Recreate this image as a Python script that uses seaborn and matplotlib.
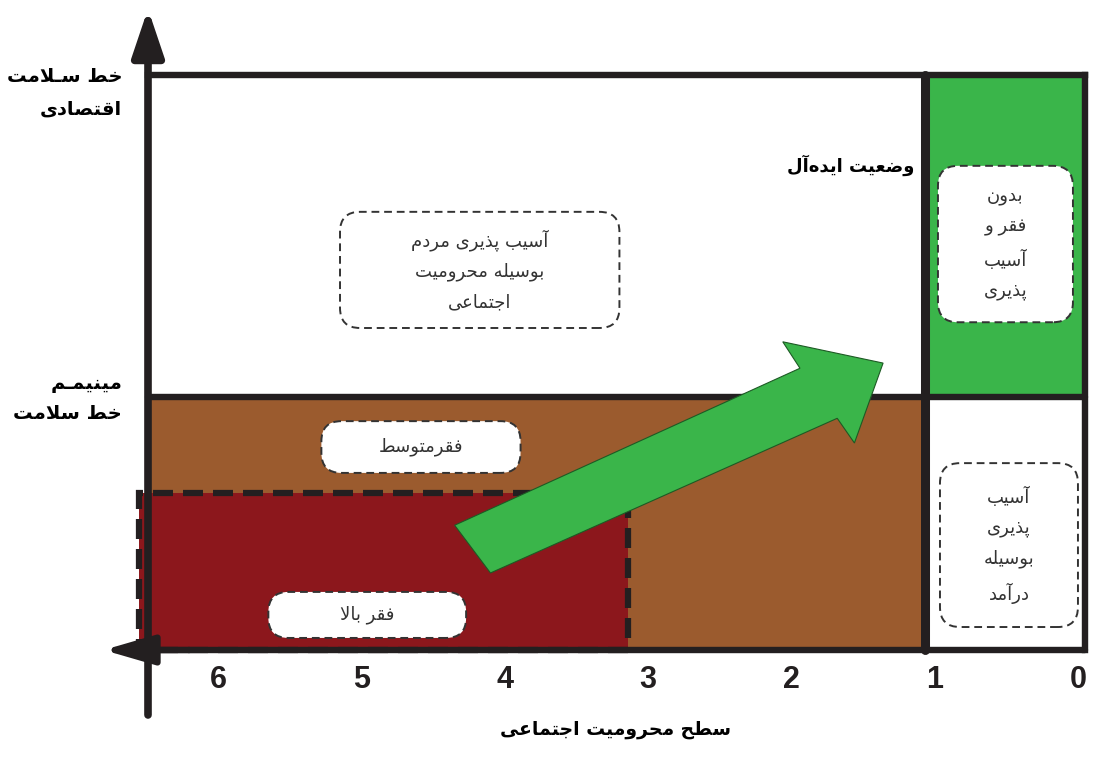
import matplotlib
matplotlib.use("Agg")
import matplotlib.pyplot as plt
import seaborn as sns
from matplotlib.patches import Rectangle, FancyBboxPatch

# ---------------- data ----------------
x_ticks = [0, 1, 2, 3, 4, 5, 6]
x_tick_labels = ["0", "1", "2", "3", "4", "5", "6"]
x_label = "سطح محرومیت اجتماعی"
y_line_min = 44          # minimum health line
y_line_econ = 100        # economic health line
y_label_econ = ["خط سـلامت", "اقتصادی"]
y_label_min = ["مینیمـم", "خط سلامت"]
x_left, x_right = 6.49, -0.05
x_split = 1.07           # ideal-state boundary
high_x, high_y = 3.14, 27.3
arrow_x = [4.35, 1.94, 2.06, 1.36, 1.56, 1.68, 4.10]
arrow_y = [21.7, 49.0, 53.6, 49.9, 36.0, 40.3, 13.4]
ideal_label = "وضعیت ایده\u200cآل"
boxes = [
    # x0, x1, y0, y1, lines
    (3.20, 5.15, 56.0, 76.2, ["آسیب پذیری مردم", "بوسیله محرومیت", "اجتماعی"]),
    (0.035, 0.977, 57.0, 84.2, ["بدون", "فقر و", "آسیب", "پذیری"]),
    (0.0, 0.963, 4.0, 32.5, ["آسیب", "پذیری", "بوسیله", "درآمد"]),
    (3.89, 5.28, 30.8, 39.8, ["فقرمتوسط"]),
    (4.27, 5.65, 2.1, 10.1, ["فقر بالا"]),
]

GREEN = "#3AB54A"
BROWN = "#9B5B2E"
RED = "#8C171C"
BLACK = "#231F20"

# ---------------- simple Arabic/Persian shaper ----------------
F = {
    'ا': (0xFE8D, 0xFE8E, None, None), 'آ': (0xFE81, 0xFE82, None, None),
    'ب': (0xFE8F, 0xFE90, 0xFE91, 0xFE92), 'پ': (0xFB56, 0xFB57, 0xFB58, 0xFB59),
    'ت': (0xFE95, 0xFE96, 0xFE97, 0xFE98), 'ج': (0xFE9D, 0xFE9E, 0xFE9F, 0xFEA0),
    'ح': (0xFEA1, 0xFEA2, 0xFEA3, 0xFEA4), 'خ': (0xFEA5, 0xFEA6, 0xFEA7, 0xFEA8),
    'د': (0xFEA9, 0xFEAA, None, None), 'ذ': (0xFEAB, 0xFEAC, None, None),
    'ر': (0xFEAD, 0xFEAE, None, None), 'ز': (0xFEAF, 0xFEB0, None, None),
    'س': (0xFEB1, 0xFEB2, 0xFEB3, 0xFEB4), 'ص': (0xFEB9, 0xFEBA, 0xFEBB, 0xFEBC),
    'ض': (0xFEBD, 0xFEBE, 0xFEBF, 0xFEC0), 'ط': (0xFEC1, 0xFEC2, 0xFEC3, 0xFEC4),
    'ع': (0xFEC9, 0xFECA, 0xFECB, 0xFECC), 'ف': (0xFED1, 0xFED2, 0xFED3, 0xFED4),
    'ق': (0xFED5, 0xFED6, 0xFED7, 0xFED8), 'ل': (0xFEDD, 0xFEDE, 0xFEDF, 0xFEE0),
    'م': (0xFEE1, 0xFEE2, 0xFEE3, 0xFEE4), 'ن': (0xFEE5, 0xFEE6, 0xFEE7, 0xFEE8),
    'ه': (0xFEE9, 0xFEEA, 0xFEEB, 0xFEEC), 'و': (0xFEED, 0xFEEE, None, None),
    'ی': (0xFBFC, 0xFBFD, 0xFBFE, 0xFBFF),
    'ـ': (0x640, 0x640, 0x640, 0x640),
    'لا': (0xFEFB, 0xFEFC, None, None), 'لآ': (0xFEF5, 0xFEF6, None, None),
}


def shape(s):
    toks = []
    i = 0
    while i < len(s):
        if s[i] == 'ل' and i + 1 < len(s) and s[i + 1] in 'اآ':
            toks.append(s[i:i + 2]); i += 2
        else:
            toks.append(s[i]); i += 1
    out = []
    for k, t in enumerate(toks):
        if t not in F:
            if t != '\u200c':
                out.append(t)
            continue
        jp = k > 0 and toks[k - 1] in F and F[toks[k - 1]][2] is not None
        jn = F[t][2] is not None and k + 1 < len(toks) and toks[k + 1] in F
        iso, fin, ini, med = F[t]
        if jp and jn:
            c = med
        elif jp:
            c = fin
        elif jn:
            c = ini
        else:
            c = iso
        out.append(chr(c))
    return "".join(out)[::-1]


def shape_lines(lines):
    return "\n".join(shape(l) for l in lines)


# ---------------- figure ----------------
sns.set_theme(style="white")
plt.rcParams['font.family'] = ['DejaVu Sans']

fig = plt.figure(figsize=(10.97, 7.58), dpi=100)
ax = fig.add_axes([100 / 1097, 38 / 758, 992 / 1097, 715 / 758])
ax.set_xlim(6.825, -0.098)
ax.set_ylim(-12.17, 112.17)
ax.axis("off")

# regions
ax.add_patch(Rectangle((x_right, y_line_min), x_split - x_right, y_line_econ - y_line_min,
                       facecolor=GREEN, edgecolor="none", zorder=1))
ax.add_patch(Rectangle((x_split, 0), x_left - x_split, y_line_min,
                       facecolor=BROWN, edgecolor="none", zorder=1))
ax.add_patch(Rectangle((high_x, 0), 6.55 - high_x, high_y,
                       facecolor=RED, edgecolor=BLACK, linewidth=4.5,
                       linestyle=(0, (3.2, 1.6)), zorder=2))

# frame lines
lw = 4.6
ax.plot([x_left, x_right], [y_line_econ, y_line_econ], color=BLACK, lw=lw, zorder=3, solid_capstyle="projecting")
ax.plot([x_left, x_right], [y_line_min, y_line_min], color=BLACK, lw=lw, zorder=3)
ax.plot([x_right, x_right], [0, y_line_econ], color=BLACK, lw=lw, zorder=3, solid_capstyle="projecting")
ax.plot([x_split, x_split], [0, y_line_econ], color=BLACK, lw=6.5, zorder=3)
ax.plot([x_right, x_left], [0, 0], color=BLACK, lw=lw, zorder=3)

# axis arrows
ax.annotate("", xy=(x_left, 111.5), xytext=(x_left, -11.3),
            arrowprops=dict(arrowstyle="-|>,head_length=0.95,head_width=0.32",
                            color=BLACK, lw=5.5, mutation_scale=30, shrinkA=0, shrinkB=0),
            zorder=4)
ax.annotate("", xy=(6.80, 0), xytext=(6.2, 0),
            arrowprops=dict(arrowstyle="-|>,head_length=1.1,head_width=0.32",
                            color=BLACK, lw=4.5, mutation_scale=28, shrinkA=0, shrinkB=0),
            zorder=4)

# green arrow
ax.fill(arrow_x, arrow_y, facecolor=GREEN, edgecolor="#1d5a24", linewidth=0.8, zorder=5)

# dashed rounded boxes
for x0, x1, y0, y1, lines in boxes:
    ax.add_patch(FancyBboxPatch((x0, y0), x1 - x0, y1 - y0,
                                boxstyle="round,pad=0,rounding_size=0.14",
                                mutation_aspect=24.9, facecolor="white",
                                edgecolor="#333333", linewidth=1.4,
                                linestyle=(0, (4, 2.5)), zorder=6))
    ax.text((x0 + x1) / 2, (y0 + y1) / 2, shape_lines(lines), ha="center", va="center",
            fontsize=13, color="#333333", linespacing=1.85, zorder=7)

# labels
ax.text(x_split + 0.07, 84.3, shape(ideal_label), ha="right", va="center",
        fontsize=13, fontweight="bold", color="black", zorder=7)
ax.text(6.671, 96.9, shape_lines(y_label_econ), ha="right", va="center",
        fontsize=14, fontweight="bold", color="black", linespacing=1.9, multialignment="right")
ax.text(6.671, 43.7, shape_lines(y_label_min), ha="right", va="center",
        fontsize=14, fontweight="bold", color="black", linespacing=1.75, multialignment="right")

for v, lab in zip(x_ticks, x_tick_labels):
    ax.text(v, -5.2, lab, ha="center", va="center", fontsize=22, fontweight="bold",
            color=BLACK, family=["Liberation Sans", "DejaVu Sans"])

ax.text(3.23, -13.8, shape(x_label), ha="center", va="center",
        fontsize=13.5, fontweight="bold", color="black")

fig.savefig("out.png", dpi=100)
